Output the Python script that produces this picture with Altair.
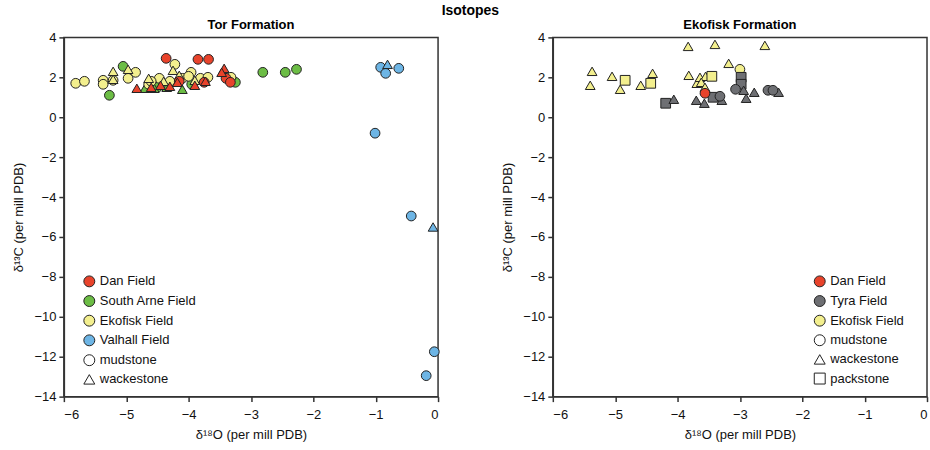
import altair as alt
import pandas as pd

# ---------------- Panel (a): Tor Formation ----------------
dan_a_x = [-4.36, -3.85, -3.68, -3.40, -3.33, -4.15, -3.75, -4.83, -4.60, -4.30, -4.18, -3.43, -3.47, -3.90, -3.73, -4.45]
dan_a_y = [2.95, 2.90, 2.90, 1.95, 1.75, 1.80, 1.75, 1.45, 1.50, 1.55, 1.75, 2.45, 2.25, 1.60, 1.80, 1.60]
dan_a_l = ["mudstone"] * 7 + ["wackestone"] * 9

arne_a_x = [-5.27, -5.05, -3.95, -3.25, -2.81, -2.45, -2.27, -4.50, -4.70, -4.55, -4.10, -4.35]
arne_a_y = [1.10, 2.55, 1.65, 1.75, 2.25, 2.25, 2.40, 1.50, 1.45, 1.45, 1.40, 1.50]
arne_a_l = ["mudstone"] * 8 + ["wackestone"] * 4

eko_a_x = [-5.81, -5.67, -5.37, -5.37, -5.21, -4.97, -4.85, -4.64, -4.47, -4.22, -4.10, -3.96,
           -3.81, -3.69, -3.32, -4.30, -4.00, -4.60,
           -5.21, -4.97, -4.64, -4.25, -4.40, -3.90, -4.15, -5.21]
eko_a_y = [1.70, 1.80, 1.85, 1.65, 1.85, 1.95, 2.25, 1.65, 1.95, 2.65, 1.95, 2.25,
           1.95, 2.00, 2.00, 1.80, 2.05, 1.80,
           2.30, 2.40, 1.95, 2.35, 1.80, 1.85, 2.10, 1.90]
eko_a_l = ["mudstone"] * 18 + ["wackestone"] * 8

val_a_x = [-0.92, -0.84, -0.63, -1.01, -0.43, -0.06, -0.19, -0.81, -0.08]
val_a_y = [2.50, 2.20, 2.45, -0.80, -4.95, -11.75, -12.95, 2.65, -5.50]
val_a_l = ["mudstone"] * 7 + ["wackestone"] * 2

# ---------------- Panel (b): Ekofisk Formation ----------------
eko_b_x = [-5.37, -5.40, -5.05, -4.92, -4.59, -4.40, -3.83, -3.40, -2.60, -3.82, -3.69, -3.64,
           -3.55, -3.62, -3.18, -3.56,
           -4.84, -4.43, -3.45,
           -3.00]
eko_b_y = [2.30, 1.60, 2.05, 1.40, 1.60, 2.20, 3.55, 3.65, 3.60, 2.10, 1.70, 2.00,
           2.05, 1.75, 2.70, 1.50,
           1.85, 1.70, 2.05,
           2.40]
eko_b_l = ["wackestone"] * 16 + ["packstone"] * 3 + ["mudstone"]

dan_b_x = [-3.56]
dan_b_y = [1.20]
dan_b_l = ["mudstone"]

tyra_b_x = [-4.19, -3.43, -2.98, -2.98,
            -4.06, -3.70, -3.57, -3.29, -2.94, -2.77, -2.90, -2.38,
            -3.32, -3.07, -2.55, -2.47]
tyra_b_y = [0.70, 1.00, 2.00, 1.65,
            0.90, 0.85, 0.70, 0.85, 1.35, 1.25, 0.95, 1.25,
            1.05, 1.40, 1.35, 1.35]
tyra_b_l = ["packstone"] * 4 + ["wackestone"] * 8 + ["mudstone"] * 4

x_ticks = [-6, -5, -4, -3, -2, -1, 0]
y_ticks = [-14, -12, -10, -8, -6, -4, -2, 0, 2, 4]

fields_a = ["Dan Field", "South Arne Field", "Ekofisk Field", "Valhall Field"]
colors_a = ["#E8432B", "#6CBD45", "#F3EF8E", "#6DB5E5"]
fields_b = ["Dan Field", "Tyra Field", "Ekofisk Field"]
colors_b = ["#E8432B", "#6E6F73", "#F3EF8E"]
liths_a = ["mudstone", "wackestone"]
shapes_a = ["circle", "triangle-up"]
liths_b = ["mudstone", "wackestone", "packstone"]
shapes_b = ["circle", "triangle-up", "square"]


def frame(field_sets):
    rows = []
    for name, xs, ys, ls in field_sets:
        for x, y, l in zip(xs, ys, ls):
            rows.append({"d18O": x, "d13C": y, "field": name, "lith": l})
    return pd.DataFrame(rows)


df_a = frame([
    ("South Arne Field", arne_a_x, arne_a_y, arne_a_l),
    ("Ekofisk Field", eko_a_x, eko_a_y, eko_a_l),
    ("Dan Field", dan_a_x, dan_a_y, dan_a_l),
    ("Valhall Field", val_a_x, val_a_y, val_a_l),
])
df_b = frame([
    ("Ekofisk Field", eko_b_x, eko_b_y, eko_b_l),
    ("Tyra Field", tyra_b_x, tyra_b_y, tyra_b_l),
    ("Dan Field", dan_b_x, dan_b_y, dan_b_l),
])

SANS = "Liberation Sans, Arial, Helvetica"


def panel(df, title, fdom, frange, ldom, lrange, lx, ly_c, ly_s):
    leg_common = dict(orient="none", title=None, labelFont=SANS, labelFontSize=13,
                      labelColor="#111", symbolSize=120, symbolStrokeColor="#222",
                      symbolStrokeWidth=1, padding=0, labelOffset=4)
    return alt.Chart(df, title=alt.TitleParams(title, fontSize=13, font=SANS,
                                               fontWeight="bold", offset=-1)).mark_point(
        filled=True, stroke="#222", strokeWidth=1, opacity=1, size=95
    ).encode(
        x=alt.X("d18O:Q", scale=alt.Scale(domain=[-6, 0], nice=False, zero=False),
                axis=alt.Axis(values=x_ticks, title="δ¹⁸O (per mill PDB)", grid=False,
                              labelPadding=7, minExtent=25, maxExtent=25, titlePadding=7)),
        y=alt.Y("d13C:Q", scale=alt.Scale(domain=[-14, 4], nice=False, zero=False),
                axis=alt.Axis(values=y_ticks, title="δ¹³C (per mill PDB)", grid=False,
                              labelPadding=3, minExtent=30, maxExtent=30, titlePadding=8)),
        color=alt.Color("field:N", scale=alt.Scale(domain=fdom, range=frange),
                        legend=alt.Legend(legendX=lx, legendY=ly_c, symbolType="circle",
                                          symbolOpacity=1, rowPadding=4.7, **leg_common)),
        shape=alt.Shape("lith:N", scale=alt.Scale(domain=ldom, range=lrange),
                        legend=alt.Legend(legendX=lx, legendY=ly_s, symbolFillColor="white",
                                          rowPadding=4.2, **leg_common)),
    ).properties(width=375, height=360)


pa = panel(df_a, "Tor Formation", fields_a, colors_a, liths_a, shapes_a, 19, 238, 317)
pb = panel(df_b, "Ekofisk Formation", fields_b, colors_b, liths_b, shapes_b, 261, 238, 297)

chart = alt.hconcat(pa, pb, spacing=59).resolve_scale(
    color="independent", shape="independent"
).resolve_legend(color="independent", shape="independent").properties(
    title=alt.TitleParams("Isotopes", fontSize=14, font=SANS, fontWeight="bold",
                          anchor="middle", offset=1),
    padding={"left": 12, "top": 3, "right": 1, "bottom": 1},
).configure_view(stroke="#333", strokeWidth=1.5).configure_axis(
    domainColor="#333", domainWidth=1.5, tickColor="#333", tickWidth=1.5, tickSize=5,
    labelFont=SANS, labelFontSize=13, labelColor="#111",
    titleFont=SANS, titleFontSize=13, titleFontWeight="normal", titleColor="#111",
)

chart.save("out.html", embed_options={"renderer": "svg", "actions": False})
